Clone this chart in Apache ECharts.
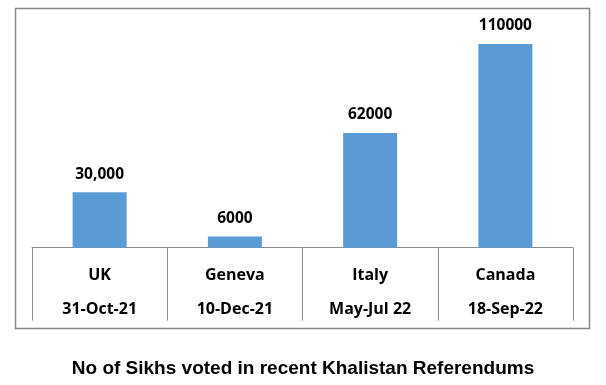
<!DOCTYPE html>
<html>
<head>
<meta charset="utf-8">
<script src="https://cdn.jsdelivr.net/npm/echarts@6/dist/echarts.min.js"></script>
<style>
html,body{margin:0;padding:0;background:#fff;}
#c{width:606px;height:385px;}
</style>
</head>
<body>
<div id="c"></div>
<script>
var places = ['UK', 'Geneva', 'Italy', 'Canada'];
var dates = ['31-Oct-21', '10-Dec-21', 'May-Jul 22', '18-Sep-22'];
var votes = [30000, 6000, 62000, 110000];
var voteLabels = ['30,000', '6000', '62000', '110000'];
var titleText = 'No of Sikhs voted in recent Khalistan Referendums';

var chart = echarts.init(document.getElementById('c'), null, {renderer: 'canvas'});
var catFont = '"Open Sans", sans-serif';
chart.setOption({
  animation: false,
  backgroundColor: '#ffffff',
  title: {
    text: titleText,
    left: 'center',
    top: 354,
    textStyle: {fontFamily: '"Liberation Sans", Arial, sans-serif', fontWeight: 'bold', fontSize: 19, color: '#000'}
  },
  graphic: [{
    type: 'rect',
    shape: {x: 15.5, y: 8.5, width: 574, height: 320},
    style: {fill: 'none', stroke: '#878787', lineWidth: 1.5},
    z: -1
  }],
  grid: {left: 32, right: 33, top: 25.5, height: 222.2, containLabel: false},
  xAxis: {
    type: 'category',
    data: places,
    axisLine: {lineStyle: {color: '#8c8c8c', width: 1}},
    axisTick: {show: true, length: 73, lineStyle: {color: '#8c8c8c', width: 1}},
    axisLabel: {
      margin: 11,
      formatter: function (v, i) { return '{a|' + v + '}\n{b|' + dates[i] + '}'; },
      rich: {
        a: {fontFamily: catFont, fontWeight: 'bold', fontSize: 16, color: '#000', lineHeight: 34},
        b: {fontFamily: catFont, fontWeight: 'bold', fontSize: 16, color: '#000', lineHeight: 34}
      }
    }
  },
  yAxis: {
    type: 'value',
    min: 0, max: 120000, interval: 20000,
    show: false,
    splitLine: {show: false}
  },
  series: [{
    type: 'bar',
    data: votes,
    barWidth: 54,
    itemStyle: {color: '#5b9bd5'},
    label: {
      show: true,
      position: 'top',
      distance: 10,
      formatter: function (p) { return voteLabels[p.dataIndex]; },
      fontFamily: catFont, fontWeight: 'bold', fontSize: 15.5, color: '#000'
    }
  }]
});
</script>
</body>
</html>
